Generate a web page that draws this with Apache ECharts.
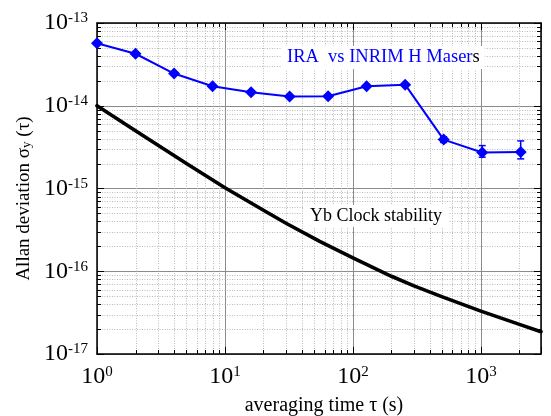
<!DOCTYPE html>
<html>
<head>
<meta charset="utf-8">
<script src="https://cdn.jsdelivr.net/npm/echarts@6/dist/echarts.min.js"></script>
<style>
  html, body { margin: 0; padding: 0; background: #fff; }
  #chart { width: 551px; height: 416px; }
</style>
</head>
<body>
<div id="chart"></div>
<script>
// H-maser comparison: averaging time (s) and Allan deviation
const maserTau = [1, 2, 4, 8, 16, 32, 64, 128, 256, 512, 1024, 2048];
const maserSigma = [5.7e-14, 4.25e-14, 2.45e-14, 1.72e-14, 1.46e-14, 1.29e-14, 1.30e-14, 1.72e-14, 1.80e-14, 3.9e-15, 2.72e-15, 2.77e-15];
// error bar limits (null where the bar stays inside the marker)
const maserErrLow = [null, null, null, null, null, null, null, null, null, 3.6e-15, 2.39e-15, 2.28e-15];
const maserErrHigh = [null, null, null, null, null, null, null, null, null, 4.2e-15, 3.30e-15, 3.76e-15];

// Yb optical clock expected stability
const ybTau = [1, 2, 3, 5, 10, 20, 30, 55, 100, 200, 300, 500, 1000, 2000, 2950];
const ybSigma = [1.0e-14, 5.0e-15, 3.34e-15, 2.01e-15, 1.02e-15, 5.45e-16, 3.8e-16, 2.3e-16, 1.45e-16, 8.7e-17, 6.65e-17, 4.9e-17, 3.3e-17, 2.28e-17, 1.86e-17];

// axis ranges and decades carrying labels
const xRange = [1, 2950];
const yRange = [1e-17, 1e-13];
const xDecades = [0, 1, 2, 3];
const yDecades = [-17, -16, -15, -14, -13];
const minorSteps = [2, 3, 4, 5, 6, 7, 8, 9];

const SERIF = 'Liberation Serif';
const BLUE = '#0000ff';

// minor (non-decade) positions for the dotted grid
const xMinor = [];
xDecades.forEach(d => minorSteps.forEach(k => {
  const v = k * Math.pow(10, d);
  if (v < xRange[1]) xMinor.push(v);
}));
const yMinor = [];
yDecades.slice(0, -1).forEach(d => minorSteps.forEach(k => {
  yMinor.push(k * Math.pow(10, d));
}));

function powLabel(v) {
  const e = Math.log10(v);
  const r = Math.round(e);
  if (Math.abs(e - r) > 1e-6) return '';
  return '{b|10}{s|' + r + '}';
}
const labelRich = {
  b: { fontFamily: SERIF, fontSize: 24, color: '#000', lineHeight: 24 },
  s: { fontFamily: SERIF, fontSize: 15, color: '#000', verticalAlign: 'top', lineHeight: 14 }
};

const crisp = v => Math.round(v) + 0.5;
const gridDot = { stroke: '#bababa', lineWidth: 1, lineDash: [1, 1.5] };
const tickStyle = { stroke: '#000', lineWidth: 1 };
const MINOR_LEN = 4;

const chart = echarts.init(document.getElementById('chart'), null, { renderer: 'canvas' });

const option = {
  animation: false,
  backgroundColor: '#fff',
  grid: { left: 97, right: 10, top: 23, bottom: 62, containLabel: false, outerBoundsMode: 'none' },
  xAxis: [
    {
      type: 'log', logBase: 10, min: xRange[0], max: xRange[1], position: 'bottom',
      name: 'averaging time τ (s)', nameLocation: 'middle', nameGap: 42,
      nameTextStyle: { fontFamily: SERIF, fontSize: 20, color: '#000', padding: [0, 0, 0, 10] },
      axisLine: { show: true, lineStyle: { color: '#000', width: 1.5 } },
      axisTick: { show: true, inside: true, length: 7, lineStyle: { color: '#000', width: 1 } },
      axisLabel: { show: true, margin: 11, formatter: powLabel, rich: labelRich },
      splitLine: { show: true, lineStyle: { color: '#8c8c8c', width: 1 } },
      minorTick: { show: false }, minorSplitLine: { show: false }
    },
    {
      type: 'log', logBase: 10, min: xRange[0], max: xRange[1], position: 'top',
      axisLine: { show: true, lineStyle: { color: '#000', width: 1.5 } },
      axisTick: { show: true, inside: true, length: 7, lineStyle: { color: '#000', width: 1 } },
      axisLabel: { show: false }, splitLine: { show: false }
    }
  ],
  yAxis: [
    {
      type: 'log', logBase: 10, min: yRange[0], max: yRange[1], position: 'left',
      name: 'Allan deviation σ{sub|y} (τ)', nameLocation: 'middle', nameGap: 63, nameRotate: 90,
      nameTextStyle: {
        fontFamily: SERIF, fontSize: 19, color: '#000', padding: [0, 20, 0, 0],
        rich: { sub: { fontFamily: SERIF, fontSize: 13, color: '#000', verticalAlign: 'bottom', lineHeight: 13 } }
      },
      axisLine: { show: true, lineStyle: { color: '#000', width: 1.5 } },
      axisTick: { show: true, inside: true, length: 7, lineStyle: { color: '#000', width: 1 } },
      axisLabel: { show: true, margin: 9, formatter: powLabel, rich: labelRich },
      splitLine: { show: true, lineStyle: { color: '#8c8c8c', width: 1 } },
      minorTick: { show: false }, minorSplitLine: { show: false }
    },
    {
      type: 'log', logBase: 10, min: yRange[0], max: yRange[1], position: 'right',
      axisLine: { show: true, lineStyle: { color: '#000', width: 1.5 } },
      axisTick: { show: true, inside: true, length: 7, lineStyle: { color: '#000', width: 1 } },
      axisLabel: { show: false }, splitLine: { show: false }
    }
  ],
  graphic: [
    {
      type: 'text', left: 282, top: 46, z: 1.5,
      style: {
        text: '{b|IRA  vs INRIM H Maser}{k|s}',
        rich: {
          b: { fontFamily: SERIF, fontSize: 18.5, fill: BLUE },
          k: { fontFamily: SERIF, fontSize: 18.5, fill: '#000' }
        },
        backgroundColor: '#fff', padding: [2, 5, 2, 5]
      }
    },
    {
      type: 'text', left: 303, top: 205, z: 1.5,
      style: {
        text: 'Yb Clock stability', fontFamily: SERIF, fontSize: 18, fill: '#000',
        backgroundColor: '#fff', padding: [2, 7, 2, 7]
      }
    }
  ],
  series: [
    {
      // dotted vertical grid at 2..9 times each decade, with short ticks on both frame edges
      type: 'custom', name: 'x-minor', silent: true, z: 1,
      xAxisIndex: 0, yAxisIndex: 0,
      data: xMinor.map(v => [v, 1e-15]),
      renderItem(params, api) {
        const cs = params.coordSys;
        const x = crisp(api.coord([api.value(0), 1e-15])[0]);
        const top = cs.y, bot = cs.y + cs.height;
        return {
          type: 'group', children: [
            { type: 'line', shape: { x1: x, y1: top, x2: x, y2: bot }, style: gridDot },
            { type: 'line', shape: { x1: x, y1: bot, x2: x, y2: bot - MINOR_LEN }, style: tickStyle },
            { type: 'line', shape: { x1: x, y1: top, x2: x, y2: top + MINOR_LEN }, style: tickStyle }
          ]
        };
      }
    },
    {
      // dotted horizontal grid inside each decade
      type: 'custom', name: 'y-minor', silent: true, z: 1,
      xAxisIndex: 0, yAxisIndex: 0,
      data: yMinor.map(v => [10, v]),
      renderItem(params, api) {
        const cs = params.coordSys;
        const y = crisp(api.coord([10, api.value(1)])[1]);
        const left = cs.x, right = cs.x + cs.width;
        return {
          type: 'group', children: [
            { type: 'line', shape: { x1: left, y1: y, x2: right, y2: y }, style: gridDot },
            { type: 'line', shape: { x1: left, y1: y, x2: left + MINOR_LEN, y2: y }, style: tickStyle },
            { type: 'line', shape: { x1: right, y1: y, x2: right - MINOR_LEN, y2: y }, style: tickStyle }
          ]
        };
      }
    },
    {
      type: 'line', name: 'Yb Clock stability', z: 3,
      data: ybTau.map((t, i) => [t, ybSigma[i]]),
      showSymbol: false, smooth: false,
      lineStyle: { color: '#000', width: 3.6, join: 'round', cap: 'round' }
    },
    {
      type: 'custom', name: 'maser-errors', z: 4,
      data: maserTau.map((t, i) => [t, maserErrLow[i], maserErrHigh[i]]).filter(d => d[1] != null),
      encode: { x: 0, y: [1, 2] },
      renderItem(params, api) {
        const lo = api.coord([api.value(0), api.value(1)]);
        const hi = api.coord([api.value(0), api.value(2)]);
        const cap = 3.5;
        const st = { stroke: BLUE, lineWidth: 1.5 };
        return {
          type: 'group', children: [
            { type: 'line', shape: { x1: lo[0], y1: lo[1], x2: hi[0], y2: hi[1] }, style: st },
            { type: 'line', shape: { x1: lo[0] - cap, y1: lo[1], x2: lo[0] + cap, y2: lo[1] }, style: st },
            { type: 'line', shape: { x1: hi[0] - cap, y1: hi[1], x2: hi[0] + cap, y2: hi[1] }, style: st }
          ]
        };
      }
    },
    {
      type: 'line', name: 'IRA vs INRIM H Masers', z: 5,
      data: maserTau.map((t, i) => [t, maserSigma[i]]),
      symbol: 'diamond', symbolSize: 12, showAllSymbol: true,
      lineStyle: { color: BLUE, width: 2 },
      itemStyle: { color: BLUE, borderWidth: 0 }
    }
  ]
};

chart.setOption(option);
</script>
</body>
</html>
